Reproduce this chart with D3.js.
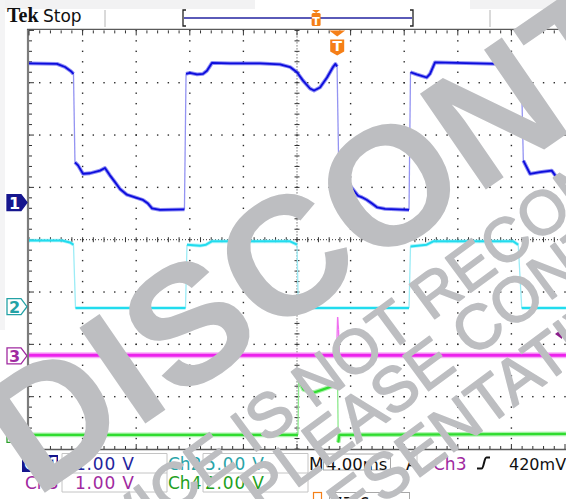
<!DOCTYPE html>
<html><head><meta charset="utf-8">
<script src="https://cdn.jsdelivr.net/npm/d3@7"></script>
<style>html,body{margin:0;padding:0;background:#fff;overflow:hidden}</style>
</head><body>
<svg id="c" width="566" height="499"></svg>
<script>
// ---------------- data ----------------
const timeDivs = 10, msPerDiv = 4, vertDivs = 8;
const triggerTime = 23.0;      // ms from left edge
const triggerLevel = 0.42;     // V on Ch3
const voltsPerDiv = [1, 5, 1, 2];
const groundDiv = [0.71, -1.28, -2.22, -3.72];
const scaleLabels = ["1.00 V", "5.00 V", "1.00 V", "2.00 V"];
const timebaseLabel = "4.00ms";
const triggerLabel = "420mV";

const ch1Time = [0,2.09,2.69,3.13,3.32,3.43,3.66,4.03,4.55,5.30,5.67,6.04,6.42,6.79,7.31,7.91,8.51,8.88,9.18,9.78,11.60,11.72,12.01,12.54,12.99,13.28,13.66,15.00,17.24,18.73,19.48,20.00,20.45,20.97,21.27,21.72,22.24,22.69,22.87,22.99,23.10,23.36,23.96,24.55,24.85,25.22,25.60,25.97,26.57,28.36,28.47,28.93,29.68,29.93,30.30,34.93,35.90,36.49,36.75,36.89,37.39,38.13,39.01,39.38,39.75,40.07];
const ch1Volts = [2.66,2.65,2.59,2.51,2.46,0.77,0.71,0.55,0.56,0.61,0.66,0.52,0.39,0.26,0.15,0.10,0.05,-0.02,-0.11,-0.14,-0.13,2.46,2.48,2.45,2.46,2.52,2.67,2.66,2.66,2.64,2.59,2.49,2.33,2.18,2.14,2.20,2.39,2.59,2.65,2.60,0.90,0.57,0.32,0.13,0.10,0.05,-0.02,-0.09,-0.12,-0.14,2.49,2.45,2.39,2.46,2.68,2.65,2.64,2.52,2.43,0.80,0.55,0.58,0.61,0.48,0.36,0.23];

const ch2Time = [0,2.46,3.06,3.32,3.47,11.68,11.79,12.76,13.21,13.63,19.48,19.85,20.00,20.10,28.36,28.47,29.68,30.17,36.14,36.51,36.77,40.07];
const ch2Volts = [6.33,6.33,6.14,5.92,-0.12,-0.12,5.92,5.83,5.92,6.24,6.24,6.02,5.92,-0.12,-0.12,5.76,5.92,6.24,6.24,5.92,-0.12,-0.12];

const ch3Time = [0,22.95,23.03,23.10,23.16,40.07];
const ch3Volts = [0.01,0.01,0.74,0.50,0.01,0.01];

const ch4Time = [0,20.07,20.13,20.47,21.22,21.96,22.84,23.03,23.08,23.17,40.07];
const ch4Volts = [-0.02,-0.02,2.10,1.72,1.59,1.72,1.88,1.88,-0.31,-0.02,0.02];

// ---------------- setup ----------------
const svg = d3.select("#c");
const x = d3.scaleLinear().domain([0, timeDivs*msPerDiv]).range([29, 565]);
const y = d3.scaleLinear().domain([-vertDivs/2, vertDivs/2]).range([449, 30.4]);
const x0 = x.range()[0], x1 = x.range()[1], yT = y.range()[1], yB = y.range()[0];

svg.append("rect").attr("width",566).attr("height",499).attr("fill","#fff");
svg.append("rect").attr("x",0).attr("y",0).attr("width",255).attr("height",9).attr("fill","#f2f2f3");
svg.append("rect").attr("x",470).attr("y",0).attr("width",96).attr("height",9).attr("fill","#f2f2f3");
svg.append("rect").attr("x",0).attr("y",0).attr("width",5).attr("height",330).attr("fill","#f4f4f5");

// ---------------- graticule ----------------
const g = svg.append("g");
const majX = d3.range(0, timeDivs*msPerDiv + 0.001, msPerDiv);
const majY = d3.range(-vertDivs/2, vertDivs/2 + 0.001, 1);
const minX = d3.range(0, timeDivs*msPerDiv + 0.001, msPerDiv/5);
const minY = d3.range(-vertDivs/2, vertDivs/2 + 0.001, 0.2);
const cx = timeDivs*msPerDiv/2;
const dot = "#2a2a2a";
majX.filter(t => t > 0 && t < 40 && Math.abs(t-cx) > 0.01).forEach(t => {
  minY.forEach(v => g.append("rect").attr("x", x(t)-0.7).attr("y", y(v)-0.7).attr("width",1.4).attr("height",1.4).attr("fill",dot));
});
majY.filter(v => v > -4 && v < 4 && Math.abs(v) > 0.01).forEach(v => {
  minX.forEach(t => g.append("rect").attr("x", x(t)-0.7).attr("y", y(v)-0.7).attr("width",1.4).attr("height",1.4).attr("fill",dot));
});
g.append("line").attr("x1",x(cx)).attr("x2",x(cx)).attr("y1",yT).attr("y2",yB).attr("stroke","#333").attr("stroke-width",1).attr("stroke-dasharray","1 2");
g.append("line").attr("x1",x0).attr("x2",x1).attr("y1",y(0)).attr("y2",y(0)).attr("stroke","#333").attr("stroke-width",1).attr("stroke-dasharray","1 2");
minY.forEach(v => g.append("line").attr("x1",x(cx)-2.5).attr("x2",x(cx)+2.5).attr("y1",y(v)).attr("y2",y(v)).attr("stroke","#333").attr("stroke-width",1));
minX.forEach(t => g.append("line").attr("x1",x(t)).attr("x2",x(t)).attr("y1",y(0)-2.5).attr("y2",y(0)+2.5).attr("stroke","#333").attr("stroke-width",1));
g.append("line").attr("x1",x0-1).attr("x2",x0-1).attr("y1",yT-1.5).attr("y2",yB+1).attr("stroke","#7c7c7c").attr("stroke-width",2.2);
g.append("line").attr("x1",x0-2).attr("x2",566).attr("y1",yT-1).attr("y2",yT-1).attr("stroke","#5a5a5a").attr("stroke-width",1.3);
g.append("line").attr("x1",x0-2).attr("x2",566).attr("y1",yB+0.5).attr("y2",yB+0.5).attr("stroke","#5a5a5a").attr("stroke-width",1.3);
minX.forEach((t,i) => {
  const L = (i % 5 === 0) ? 5 : 3;
  g.append("line").attr("x1",x(t)).attr("x2",x(t)).attr("y1",yT).attr("y2",yT+L).attr("stroke","#333").attr("stroke-width",1);
  g.append("line").attr("x1",x(t)).attr("x2",x(t)).attr("y1",yB).attr("y2",yB-L).attr("stroke","#333").attr("stroke-width",1);
});
minY.forEach((v,i) => {
  const L = (i % 5 === 0) ? 5 : 3;
  g.append("line").attr("x1",x0).attr("x2",x0+L).attr("y1",y(v)).attr("y2",y(v)).attr("stroke","#333").attr("stroke-width",1);
});

// ---------------- traces ----------------
const traceStyles = [
  {outer:"#5050f0", inner:"#0c0cdc", edge:"#9494f2", ow:3.8, iw:1.8},
  {outer:"#86eef8", inner:"#22dcee", edge:"#9cecf6", ow:3.6, iw:2.0},
  {outer:"#f580f5", inner:"#ec22ec", edge:"#f070f0", ow:6.0, iw:3.0},
  {outer:"#80ec80", inner:"#30dc30", edge:"#8eea8e", ow:4.6, iw:2.2}
];
const series = [[ch1Time,ch1Volts],[ch2Time,ch2Volts],[ch3Time,ch3Volts],[ch4Time,ch4Volts]];
svg.append("clipPath").attr("id","pc").append("rect").attr("x",x0).attr("y",yT).attr("width",x1-x0+2).attr("height",yB-yT);
const tg = svg.append("g").attr("clip-path","url(#pc)");
const line = d3.line().x(d=>d[0]).y(d=>d[1]);
[3,2,1,0].forEach(ci => {
  const [ts, vs] = series[ci];
  const st = traceStyles[ci];
  const pts = ts.map((t,i) => [x(t), y(groundDiv[ci] + vs[i]/voltsPerDiv[ci])]);
  const runs = []; const edges = []; let run = [pts[0]];
  for (let i = 1; i < pts.length; i++) {
    const dx = Math.abs(pts[i][0]-pts[i-1][0]), dy = Math.abs(pts[i][1]-pts[i-1][1]);
    if (dy > 12 && dy > 4*dx) {
      edges.push([pts[i-1], pts[i]]);
      if (run.length > 1) runs.push(run);
      run = [pts[i]];
    } else run.push(pts[i]);
  }
  if (run.length > 1) runs.push(run);
  edges.forEach(e => tg.append("path").attr("d", line(e)).attr("fill","none").attr("stroke",st.edge).attr("stroke-width",1.3));
  runs.forEach(r => {
    tg.append("path").attr("d", line(r)).attr("fill","none").attr("stroke",st.outer).attr("stroke-width",st.ow).attr("stroke-opacity",0.65).attr("stroke-linejoin","round");
    tg.append("path").attr("d", line(r)).attr("fill","none").attr("stroke",st.inner).attr("stroke-width",st.iw).attr("stroke-linejoin","round");
  });
});

// ---------------- ground markers ----------------
const markerCols = [
  {fill:"#16168e", stroke:"#16168e", text:"#fff"},
  {fill:"#fff", stroke:"#24a2a6", text:"#24a2a6"},
  {fill:"#fff", stroke:"#a02aa0", text:"#a02aa0"},
  {fill:"#fff", stroke:"#2ca02c", text:"#2ca02c"}
];
groundDiv.forEach((gd, ci) => {
  const yy = y(gd), mc = markerCols[ci];
  svg.append("path").attr("d", `M7,${yy-8}H21L27,${yy}L21,${yy+8}H7Z`)
    .attr("fill", mc.fill).attr("stroke", mc.stroke).attr("stroke-width",1.3);
  svg.append("text").attr("x",14.5).attr("y",yy+6).attr("text-anchor","middle")
    .attr("font-family","DejaVu Sans, sans-serif").attr("font-size",16).attr("font-weight","bold")
    .attr("fill", mc.text).text(String(ci+1));
});

const tly = y(groundDiv[2] + triggerLevel/voltsPerDiv[2]);
svg.append("path").attr("d",`M555,${tly}L562,${tly-5}L562,${tly+5}Z`).attr("fill","#8a1c8a");
svg.append("line").attr("x1",558).attr("x2",566).attr("y1",tly).attr("y2",tly).attr("stroke","#8a1c8a").attr("stroke-width",1.5);

const tx = x(triggerTime);
const orange = "#f57f17";
svg.append("path").attr("d",`M${tx-8},${yT}H${tx+8}L${tx},${yT+6}Z`).attr("fill",orange);
svg.append("path").attr("d",`M${tx-7},${yT+9}H${tx+7}V${yT+21}L${tx},${yT+25}L${tx-7},${yT+21}Z`).attr("fill",orange);
svg.append("text").attr("x",tx).attr("y",yT+21).attr("text-anchor","middle").attr("font-family","DejaVu Sans, sans-serif")
  .attr("font-size",14).attr("font-weight","bold").attr("fill","#fff").text("T");

// ---------------- header ----------------
svg.append("text").attr("x",7).attr("y",22).attr("font-family","Liberation Serif, serif").attr("font-weight","bold")
  .attr("font-size",20).attr("fill","#111").text("Tek");
svg.append("text").attr("x",43).attr("y",22).attr("font-family","DejaVu Sans, sans-serif")
  .attr("font-size",17).attr("fill","#111").text("Stop");
[105, 490].forEach(xx => svg.append("line").attr("x1",xx).attr("x2",xx).attr("y1",10).attr("y2",27).attr("stroke","#b4b4b4").attr("stroke-width",1));
svg.append("line").attr("x1",184).attr("x2",412).attr("y1",18).attr("y2",18).attr("stroke","#5a5ab8").attr("stroke-width",1.8);
svg.append("path").attr("d","M186,10H183V26H186").attr("fill","none").attr("stroke","#222").attr("stroke-width",1.3);
svg.append("path").attr("d","M410,10H413V26H410").attr("fill","none").attr("stroke","#222").attr("stroke-width",1.3);
const rbx = 184 + (412-184) * triggerTime / 40 + 1;
svg.append("path").attr("d",`M${rbx-4},10H${rbx+4}L${rbx},13Z`).attr("fill",orange);
svg.append("rect").attr("x",rbx-4.5).attr("y",13).attr("width",9).attr("height",13).attr("rx",1.5).attr("fill",orange);
svg.append("text").attr("x",rbx).attr("y",24.5).attr("text-anchor","middle").attr("font-family","DejaVu Sans, sans-serif")
  .attr("font-size",11).attr("font-weight","bold").attr("fill","#fff").text("T");

// ---------------- status area ----------------
const st = svg.append("g").attr("font-family","DejaVu Sans, sans-serif").attr("font-size",17);
const boxC = "#c4c4c4";
function hl(x1_,x2_,yy){ st.append("line").attr("x1",x1_).attr("x2",x2_).attr("y1",yy).attr("y2",yy).attr("stroke",boxC).attr("stroke-width",1); }
function vl(xx,y1_,y2_){ st.append("line").attr("x1",xx).attr("x2",xx).attr("y1",y1_).attr("y2",y2_).attr("stroke",boxC).attr("stroke-width",1); }
hl(62,167,453.5); hl(62,167,473); hl(62,167,492); vl(62,453.5,492); vl(167,453.5,492);
hl(203,308,453.5); hl(203,308,473); hl(203,308,492); vl(203,453.5,492); vl(308,453.5,492);
vl(417,453.5,472);
st.append("rect").attr("x",323.5).attr("y",454).attr("width",67).attr("height",16).attr("fill","none").attr("stroke","#a8a8a8");
st.append("rect").attr("x",22).attr("y",455).attr("width",36).attr("height",17).attr("fill","#16168e");
st.append("text").attr("x",24).attr("y",469.5).attr("fill","#fff").attr("font-weight","bold").text("Ch1");
st.append("text").attr("x",75).attr("y",469.5).attr("fill","#24249c").attr("letter-spacing",0.8).text(scaleLabels[0]);
st.append("text").attr("x",168).attr("y",469.5).attr("fill","#2aa4a8").text("Ch2");
st.append("text").attr("x",205).attr("y",469.5).attr("fill","#2aa4a8").attr("letter-spacing",0.8).text(scaleLabels[1]);
st.append("text").attr("x",25).attr("y",489).attr("fill","#a02aa0").text("Ch3");
st.append("text").attr("x",75).attr("y",489).attr("fill","#a02aa0").attr("letter-spacing",0.8).text(scaleLabels[2]);
st.append("text").attr("x",168).attr("y",489).attr("fill","#22a022").text("Ch4");
st.append("text").attr("x",205).attr("y",489).attr("fill","#22a022").attr("letter-spacing",0.8).text(scaleLabels[3]);
st.append("text").attr("x",309).attr("y",469.5).attr("fill","#111").text("M");
st.append("text").attr("x",326).attr("y",469.5).attr("fill","#111").attr("font-size",16.5).text(timebaseLabel);
st.append("text").attr("x",406).attr("y",469.5).attr("fill","#111").text("A");
st.append("text").attr("x",433).attr("y",469.5).attr("fill","#a02aa0").text("Ch3");
st.append("path").attr("d","M477,468.5H481.5C484,468.5 484,457.5 486.5,457.5H490").attr("fill","none").attr("stroke","#111").attr("stroke-width",2);
st.append("text").attr("x",509).attr("y",469.5).attr("fill","#111").attr("font-size",16).text(triggerLabel);
st.append("rect").attr("x",313.5).attr("y",492.5).attr("width",8).attr("height",9).attr("fill","none").attr("stroke",orange).attr("stroke-width",1.2);
st.append("rect").attr("x",329.5).attr("y",492.5).attr("width",80).attr("height",14).attr("fill","none").attr("stroke","#a8a8a8");
st.append("text").attr("x",332).attr("y",510).attr("fill","#111").text("77.6");

// ---------------- watermark ----------------
const wmColor = "#bdbec1";
const wmLines = [
  {text:"DISCONTINUED", size:169, weight:"bold", rot:-34.5, key:"DISC", off:1, u:-108, v:431.5, sw:0},
  {text:"THIS DEVICE IS NOT RECOMMENDED", size:62, weight:"normal", rot:-36.5, key:" IS ", off:2, u:-30, v:515, sw:1.6},
  {text:"PLEASE CONTACT YOUR TI", size:63, weight:"normal", rot:-36.5, key:"PLEASE", off:2, u:2, v:569, sw:1.6},
  {text:"TI REPRESENTATIVE", size:63, weight:"normal", rot:-36.5, key:"REPRESENT", off:5, u:28, v:633, sw:1.6}
];
wmLines.forEach(L => {
  const grp = svg.append("g").attr("transform",`rotate(${L.rot})`);
  const t = grp.append("text").attr("x",0).attr("y",L.v)
    .attr("font-family","Liberation Sans, Arial, sans-serif").attr("font-weight",L.weight)
    .attr("font-size",L.size).attr("fill",wmColor)
    .attr("stroke", L.sw > 0 ? wmColor : "none").attr("stroke-width",L.sw).attr("stroke-linejoin","round")
    .text(L.text);
  const node = t.node();
  const idx = L.text.indexOf(L.key) + L.off;
  const pre = idx > 0 ? node.getSubStringLength(0, idx) : 0;
  const w = node.getSubStringLength(idx, 1);
  t.attr("x", L.u - pre - w/2);
});
</script>
</body></html>
